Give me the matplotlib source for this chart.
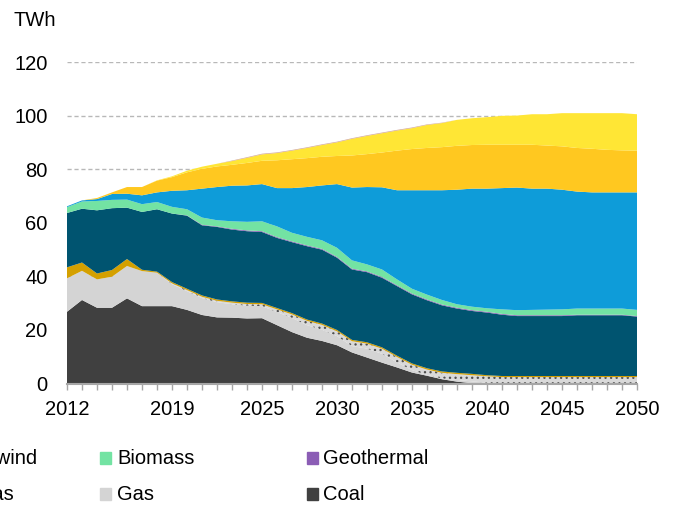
import numpy as np
import matplotlib
matplotlib.use('Agg')
from matplotlib import pyplot as plt
from matplotlib.patches import Rectangle

plt.rcParams['font.family'] = ['Liberation Sans', 'DejaVu Sans']
plt.rcParams['hatch.linewidth'] = 0.9

years = list(range(2012, 2051))
tick_labels = {2012: '2012', 2019: '2019', 2025: '2025', 2030: '2030',
               2035: '2035', 2040: '2040', 2045: '2045', 2050: '2050'}

# TWh per source, bottom to top of the stack
coal = [26.8, 31.2, 28.3, 28.3, 31.8, 28.9, 28.9, 28.9, 27.5, 25.6, 24.7, 24.6, 24.3,
        24.4, 21.8, 19.2, 17.1, 15.9, 14.3, 11.6, 9.7, 7.8, 6.0, 4.1, 2.9, 1.6, 0.7,
        0.1, 0, 0, 0, 0, 0, 0, 0, 0, 0, 0, 0]
gas = [12.5, 10.9, 10.6, 11.6, 12.1, 13.1, 12.5, 8.2, 7.0, 6.3, 5.7, 5.0, 4.8,
       4.5, 4.9, 5.3, 4.7, 4.2, 3.4, 2.4, 3.3, 3.3, 1.9, 0.9, 0.3, 0.3, 0.6,
       0.7, 0.3, 0, 0, 0, 0, 0, 0, 0, 0, 0, 0]
gas_ccs = [0, 0, 0, 0, 0, 0, 0, 0.3, 0.4, 0.5, 0.5, 0.6, 0.6,
           0.7, 1.0, 1.3, 1.6, 1.8, 1.8, 1.8, 1.9, 1.9, 2.0, 2.0, 2.0, 2.1, 2.2,
           2.3, 2.4, 2.4, 2.4, 2.4, 2.4, 2.4, 2.4, 2.4, 2.4, 2.4, 2.4]
oil = [4.1, 3.1, 2.2, 2.5, 2.6, 0.5, 0.4, 0.5, 0.5, 0.5, 0.5, 0.5, 0.5,
       0.5, 0.5, 0.5, 0.5, 0.5, 0.5, 0.5, 0.5, 0.5, 0.5, 0.5, 0.5, 0.5, 0.5,
       0.5, 0.4, 0.4, 0.4, 0.4, 0.4, 0.4, 0.4, 0.4, 0.4, 0.4, 0.4]
hydro = [20.3, 20.1, 23.6, 23.1, 19.2, 21.6, 23.3, 25.6, 27.3, 26.2, 27.1, 26.8, 26.7,
         26.5, 26.2, 26.5, 27.4, 27.6, 27.0, 26.3, 26.2, 26.0, 26.0, 25.8, 25.4, 24.7, 24.0,
         23.5, 23.4, 22.9, 22.4, 22.4, 22.4, 22.4, 22.7, 22.7, 22.7, 22.7, 22.2]
geothermal = [0, 0, 0, 0, 0, 0, 0, 0, 0.1, 0.2, 0.2, 0.3, 0.3,
              0.3, 0.3, 0.3, 0.3, 0.3, 0.3, 0.3, 0.3, 0.3, 0.3, 0.3, 0.3, 0.3, 0.3,
              0.3, 0.3, 0.3, 0.3, 0.3, 0.3, 0.3, 0.2, 0.2, 0.2, 0.2, 0.2]
biomass = [2.2, 2.7, 3.5, 3.1, 3.0, 2.9, 2.7, 2.5, 2.3, 2.7, 2.3, 2.8, 3.2,
           3.7, 4.0, 3.2, 3.2, 3.2, 3.4, 3.1, 2.6, 2.8, 2.2, 1.8, 1.8, 1.7, 1.3,
           1.3, 1.3, 1.7, 1.9, 2.0, 2.1, 2.2, 2.3, 2.3, 2.3, 2.3, 2.3]
onshore_wind = [0.3, 0.4, 0.7, 2.2, 2.2, 3.3, 3.6, 6.0, 7.1, 10.8, 12.4, 13.3, 13.6,
                13.9, 14.3, 16.7, 18.6, 20.5, 23.8, 27.2, 28.9, 30.7, 33.3, 36.8, 39.0, 41.0, 42.8,
                44.1, 44.7, 45.3, 45.8, 45.3, 45.2, 44.7, 43.7, 43.4, 43.4, 43.4, 43.9]
offshore_wind = [0, 0, 0.4, 0.6, 2.5, 3.1, 4.4, 5.1, 6.7, 7.4, 7.7, 7.8, 8.4,
                 8.7, 10.4, 10.8, 10.8, 10.7, 10.5, 12.0, 12.3, 13.0, 14.8, 15.4, 15.8, 16.1, 16.4,
                 16.3, 16.4, 16.2, 16.0, 16.4, 16.1, 16.2, 16.3, 16.3, 15.9, 15.7, 15.6]
solar = [0, 0, 0, 0, 0, 0, 0.1, 0.3, 0.6, 0.8, 1.0, 1.4, 1.9,
         2.4, 2.7, 3.2, 3.8, 4.4, 5.1, 6.2, 6.8, 7.2, 7.5, 7.8, 8.6, 9.0, 9.7,
         10.0, 10.3, 10.8, 10.9, 11.4, 11.7, 12.4, 13.0, 13.3, 13.7, 13.9, 13.6]
other = [0, 0, 0, 0, 0, 0, 0, 0, 0, 0, 0, 0.2, 0.25,
         0.25, 0.25, 0.25, 0.25, 0.25, 0.25, 0.25, 0.25, 0.25, 0.25, 0.25, 0.2, 0.15, 0,
         0, 0, 0, 0, 0, 0, 0, 0, 0, 0, 0, 0]

series = [coal, gas, gas_ccs, oil, hydro, geothermal, biomass,
          onshore_wind, offshore_wind, solar, other]
colors = ['#404040', '#D4D4D4', '#D9D9D9', '#D4A000', '#005470', '#8B5DB5',
          '#73E3A3', '#0E9CD9', '#FFC820', '#FFE635', '#D2A796']

fig = plt.figure(figsize=(6.78, 5.08), dpi=100)
ax = fig.add_axes([67 / 678, 124.5 / 508, 570 / 678, 321.2 / 508])

polys = ax.stackplot(years, *series, colors=colors, linewidth=0)
polys[2].set_hatch('...')
polys[2].set_edgecolor('#505050')

ax.set_xlim(2012, 2050)
ax.set_ylim(0, 120)
ax.set_yticks(range(0, 121, 20))
ax.set_xticks(years)
ax.set_xticklabels([tick_labels.get(y, '') for y in years])
ax.yaxis.grid(True, linestyle=(0, (3, 2)), color='#B8B8B8', linewidth=1)
ax.set_axisbelow(True)

for s in ['top', 'right', 'left']:
    ax.spines[s].set_visible(False)
ax.spines['bottom'].set_color('#A6A6A6')
ax.spines['bottom'].set_linewidth(1.5)
ax.spines['bottom'].set_zorder(5)
ax.tick_params(axis='x', length=4, width=1, color='#A6A6A6', pad=8, labelsize=14.5)
ax.tick_params(axis='y', length=0, pad=14, labelsize=14.5)

fig.text(13 / 678, 1 - 20 / 508, 'TWh', fontsize=14.5, va='center', ha='left')

# legend, first column runs off the left edge
leg_rows = [1 - 458 / 508, 1 - 494 / 508]
leg_items = [
    (-107, 'Offshore wind', '#0E9CD9', 0), (100, 'Biomass', '#73E3A3', 0),
    (307, 'Geothermal', '#8B5DB5', 0),
    (-107, 'Biogas', '#D4A000', 1), (100, 'Gas', '#D4D4D4', 1),
    (307, 'Coal', '#404040', 1),
]
for xp, label, col, r in leg_items:
    yc = leg_rows[r]
    fig.patches.append(Rectangle((xp / 678, yc - 6 / 508), 11 / 678, 12 / 508,
                                 transform=fig.transFigure, color=col))
fig.text(37 / 678, leg_rows[0], 'Offshore wind', fontsize=14.5, va='center', ha='right')
fig.text(14 / 678, leg_rows[1], 'Biogas', fontsize=14.5, va='center', ha='right')
fig.text(117 / 678, leg_rows[0], 'Biomass', fontsize=14.5, va='center')
fig.text(117 / 678, leg_rows[1], 'Gas', fontsize=14.5, va='center')
fig.text(323 / 678, leg_rows[0], 'Geothermal', fontsize=14.5, va='center')
fig.text(323 / 678, leg_rows[1], 'Coal', fontsize=14.5, va='center')

plt.savefig('out.png', dpi=100)
